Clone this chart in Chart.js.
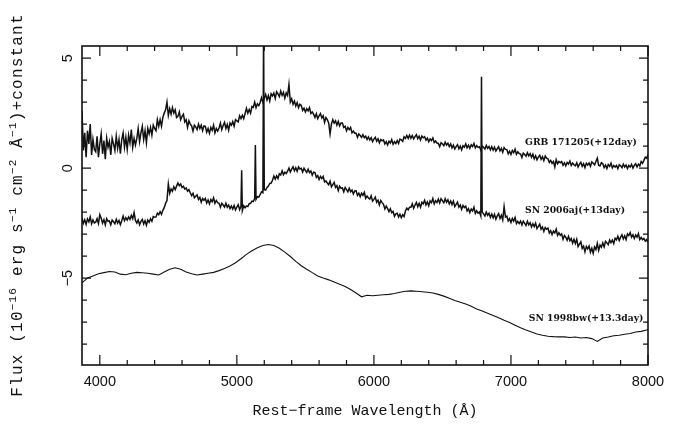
<!DOCTYPE html>
<html>
<head>
<meta charset="utf-8">
<script src="https://cdn.jsdelivr.net/npm/chart.js@4.4.1/dist/chart.umd.min.js"></script>
<style>
html,body{margin:0;padding:0;background:#fff;}
#wrap{width:683px;height:432px;position:relative;}
</style>
</head>
<body>
<div id="wrap"><canvas id="c" width="683" height="432"></canvas></div>
<script>
// ---- data ----
const seriesNames = ["GRB 171205(+12day)", "SN 2006aj(+13day)", "SN 1998bw(+13.3day)"];
const noisyStart = 3870, noisyStep = 10;   // sampling grid of the two noisy spectra (Å)
const smoothStart = 3870, smoothStep = 40; // sampling grid of SN 1998bw (Å)

// GRB 171205 flux, one row per 100 Å starting at 3870 Å
const grbFlux = [
 2.6, 0.8, 1.6, 0.5, 1.7, 1.1, 2.0, 0.6, 1.3, 0.85,
 0.75, 1.45, 0.5, 1.1, 1.55, 0.65, 1.25, 0.4, 1.35, 0.95,
 1.2, 0.6, 1.35, 1.1, 0.8, 1.45, 0.9, 1.3, 0.65, 1.3,
 1.6, 0.95, 1.4, 0.85, 1.5, 1.15, 1.75, 0.95, 1.35, 1.05,
 1.35, 1.8, 1.2, 1.6, 1.9, 1.3, 1.7, 1.15, 1.8, 1.55,
 1.85, 1.5, 1.95, 1.8, 1.7, 2.2, 1.9, 2.2, 1.9, 2.3,
 2.5, 2.65, 3.0, 2.4, 2.7, 2.45, 2.75, 2.5, 2.65, 2.3,
 2.35, 2.55, 2.2, 2.35, 2.45, 2.1, 2.2, 1.85, 2.15, 2.0,
 1.92, 1.68, 1.95, 1.87, 1.75, 2.0, 1.8, 1.95, 1.7, 1.92,
 1.9, 1.63, 1.8, 1.58, 1.85, 1.72, 1.95, 1.6, 1.8, 1.68,
 1.82, 2.04, 1.75, 1.94, 2.08, 1.8, 1.98, 1.72, 2.05, 1.95,
 2.11, 1.9, 2.2, 2.15, 2.1, 2.38, 2.25, 2.4, 2.25, 2.48,
 2.72, 2.5, 2.66, 2.5, 2.8, 2.76, 3.0, 2.75, 2.92, 2.84,
 2.98, 3.2, 3.0, 3.18, 3.35, 3.1, 3.3, 3.05, 3.38, 3.28,
 3.41, 3.17, 3.47, 3.37, 3.25, 3.5, 3.3, 3.44, 3.18, 3.42,
 3.3, 3.8, 3.0, 3.15, 2.9, 3.05, 2.82, 2.98, 2.75, 2.9,
 2.85, 2.62, 2.72, 2.55, 2.7, 2.6, 2.75, 2.48, 2.55, 2.45,
 2.3, 2.47, 2.25, 2.38, 2.48, 2.28, 2.38, 2.08, 2.3, 2.2,
 2.05, 1.55, 2.0, 2.2, 2.05, 2.15, 1.95, 2.12, 1.92, 2.05,
 2.05, 1.85, 1.9, 1.7, 1.85, 1.75, 1.85, 1.6, 1.68, 1.58,
 1.58, 1.4, 1.55, 1.48, 1.4, 1.52, 1.38, 1.45, 1.3, 1.42,
 1.28, 1.38, 1.2, 1.32, 1.4, 1.22, 1.33, 1.15, 1.3, 1.24,
 1.28, 1.1, 1.2, 1.05, 1.22, 1.14, 1.3, 1.08, 1.2, 1.12,
 1.25, 1.12, 1.32, 1.28, 1.22, 1.42, 1.35, 1.48, 1.35, 1.5,
 1.36, 1.48, 1.33, 1.43, 1.52, 1.34, 1.45, 1.28, 1.46, 1.38,
 1.43, 1.27, 1.36, 1.2, 1.33, 1.25, 1.37, 1.16, 1.23, 1.14,
 1.12, 0.97, 1.15, 1.1, 1.02, 1.18, 1.05, 1.13, 0.98, 1.1,
 0.92, 1.04, 0.87, 0.98, 1.07, 0.88, 1.0, 0.83, 1.02, 0.95,
 1.1, 0.92, 1.04, 0.9, 1.06, 0.98, 1.12, 0.92, 1.02, 0.94,
 0.97, 0.82, 1.0, 0.95, 0.87, 1.03, 0.9, 0.98, 0.83, 0.97,
 0.82, 0.95, 0.78, 0.88, 0.97, 0.78, 0.9, 0.72, 0.93, 0.85,
 0.84, 0.65, 0.77, 0.62, 0.8, 0.7, 0.86, 0.63, 0.74, 0.66,
 0.64, 0.48, 0.68, 0.62, 0.54, 0.7, 0.56, 0.66, 0.49, 0.63,
 0.42, 0.56, 0.38, 0.5, 0.58, 0.4, 0.52, 0.34, 0.55, 0.45,
 0.42, 0.26, 0.35, 0.22, 0.3, 0.05, 0.38, 0.2, 0.3, 0.24,
 0.3, 0.13, 0.24, 0.1, 0.26, 0.18, 0.32, 0.12, 0.23, 0.15,
 0.1, 0.24, 0.05, 0.18, 0.26, 0.08, 0.2, 0.02, 0.22, 0.14,
 0.23, 0.08, 0.28, 0.22, 0.15, 0.3, 0.45, 0.12, 0.1, 0.25,
 0.2, 0.02, 0.14, -0.02, 0.16, 0.08, 0.22, 0.01, 0.12, 0.05,
 0.12, -0.03, 0.15, 0.1, 0.02, 0.18, 0.05, 0.14, -0.02, 0.12,
 0.05, 0.17, 0.0, 0.12, 0.2, 0.05, 0.18, 0.1, 0.3, 0.22,
 0.35, 0.5, 0.45, 0.6, 0.55
];

// SN 2006aj flux, one row per 100 Å starting at 3870 Å
const ajFlux = [
 -2.26, -2.51, -2.35, -2.56, -2.31, -2.44, -2.22, -2.53, -2.36, -2.49,
 -2.46, -2.3, -2.52, -2.12, -2.28, -2.5, -2.34, -2.58, -2.3, -2.42,
 -2.4, -2.58, -2.36, -2.44, -2.53, -2.33, -2.5, -2.38, -2.57, -2.39,
 -2.18, -2.39, -2.25, -2.36, -2.22, -2.33, -2.15, -2.3, -2.02, -2.38,
 -2.5, -2.36, -2.57, -2.42, -2.33, -2.54, -2.39, -2.6, -2.36, -2.46,
 -2.3, -2.42, -2.2, -2.23, -2.22, -2.05, -2.12, -1.98, -2.1, -1.92,
 -1.8, -1.6, -1.48, -0.72, -1.15, -0.95, -1.05, -0.85, -0.98, -0.82,
 -0.68, -0.8, -0.72, -0.88, -0.82, -0.95, -0.9, -1.05, -0.98, -1.12,
 -1.25, -1.15, -1.35, -1.28, -1.22, -1.43, -1.33, -1.55, -1.38, -1.46,
 -1.38, -1.59, -1.45, -1.63, -1.43, -1.53, -1.35, -1.6, -1.47, -1.57,
 -1.6, -1.78, -1.6, -1.68, -1.77, -1.6, -1.78, -1.68, -1.84, -1.72,
 -1.86, -1.7, -1.9, -1.77, -1.66, -1.89, -1.74, -1.93, -1.71, -1.8,
 -1.72, -1.75, -1.62, -1.6, -1.5, -1.52, -1.38, -1.42, -1.3, -1.32,
 -1.2, -1.08, -1.12, -0.98, -1.0, -0.88, -0.82, -0.7, -0.68, -0.55,
 -0.36, -0.5, -0.35, -0.47, -0.26, -0.31, -0.12, -0.3, -0.19, -0.25,
 -0.14, 0.0, -0.18, -0.05, 0.06, -0.12, 0.02, -0.14, 0.05, -0.04,
 -0.01, -0.18, -0.01, -0.11, -0.2, -0.05, -0.2, -0.13, -0.32, -0.18,
 -0.2, -0.42, -0.34, -0.52, -0.38, -0.48, -0.38, -0.63, -0.58, -0.68,
 -0.76, -0.6, -0.85, -0.75, -0.65, -0.88, -0.8, -1.02, -0.82, -0.91,
 -0.9, -1.08, -0.88, -0.98, -1.08, -0.92, -1.08, -1.0, -1.18, -1.04,
 -1.03, -1.24, -1.14, -1.3, -1.14, -1.24, -1.1, -1.37, -1.27, -1.36,
 -1.41, -1.26, -1.5, -1.42, -1.32, -1.55, -1.46, -1.67, -1.47, -1.57,
 -1.65, -1.86, -1.73, -1.84, -1.98, -1.85, -2.03, -1.97, -2.19, -2.08,
 -2.05, -2.22, -2.1, -2.25, -2.12, -2.2, -1.95, -1.82, -1.9, -1.78,
 -1.78, -1.62, -1.83, -1.68, -1.56, -1.76, -1.6, -1.78, -1.55, -1.62,
 -1.46, -1.67, -1.54, -1.71, -1.49, -1.57, -1.38, -1.63, -1.48, -1.56,
 -1.41, -1.58, -1.39, -1.48, -1.58, -1.39, -1.55, -1.44, -1.63, -1.49,
 -1.66, -1.5, -1.75, -1.65, -1.55, -1.78, -1.68, -1.88, -1.7, -1.79,
 -1.73, -1.95, -1.85, -2.02, -1.86, -1.95, -1.78, -2.06, -1.94, -2.05,
 -2.0, -2.18, -1.99, -2.08, -2.18, -2.0, -2.15, -2.05, -2.24, -2.09,
 -2.26, -2.1, -2.32, -2.17, -2.07, -2.29, -2.14, -2.35, -1.75, -2.22,
 -2.18, -2.4, -2.3, -2.47, -2.29, -2.41, -2.25, -2.52, -2.42, -2.52,
 -2.41, -2.59, -2.41, -2.51, -2.61, -2.42, -2.58, -2.48, -2.67, -2.53,
 -2.66, -2.5, -2.75, -2.65, -2.55, -2.78, -2.68, -2.88, -2.7, -2.78,
 -2.73, -2.95, -2.85, -3.02, -2.86, -2.95, -2.78, -3.06, -2.94, -3.05,
 -2.99, -3.23, -3.06, -3.14, -3.28, -3.1, -3.3, -3.2, -3.41, -3.24,
 -3.43, -3.24, -3.57, -3.46, -3.35, -3.65, -3.55, -3.81, -3.56, -3.67,
 -3.54, -3.82, -3.64, -3.87, -3.58, -3.7, -3.42, -3.74, -3.5, -3.6,
 -3.4, -3.58, -3.33, -3.4, -3.48, -3.27, -3.39, -3.27, -3.43, -3.19,
 -3.26, -3.1, -3.29, -3.14, -3.03, -3.22, -3.08, -3.25, -2.99, -3.07,
 -2.93, -3.14, -3.03, -3.2, -3.04, -3.14, -2.98, -3.25, -3.15, -3.25,
 -3.2, -3.32, -3.25, -3.38, -3.3
];
// narrow emission lines on the SN 2006aj trace
const ajLineWave = [5035, 5135, 5195, 6785];
const ajLineFlux = [-0.1, 1.05, 6.5, 4.15];

const bwFlux = [
 -5.22, -5.0, -4.9, -4.8, -4.75, -4.7, -4.72, -4.82, -4.85, -4.78,
 -4.74, -4.76, -4.78, -4.82, -4.86, -4.72, -4.6, -4.53, -4.6, -4.72,
 -4.8, -4.86, -4.82, -4.78, -4.74, -4.66, -4.56, -4.45, -4.3, -4.12,
 -3.92, -3.76, -3.62, -3.52, -3.47, -3.52, -3.64, -3.82, -4.02, -4.24,
 -4.44, -4.6, -4.75, -4.9, -5.0, -5.08, -5.18, -5.28, -5.38, -5.52,
 -5.68, -5.85, -5.78, -5.8, -5.78, -5.76, -5.74, -5.7, -5.64, -5.6,
 -5.58, -5.6, -5.62, -5.64, -5.68, -5.74, -5.82, -5.92, -6.02, -6.1,
 -6.18, -6.28, -6.4, -6.5, -6.6, -6.7, -6.8, -6.92, -7.02, -7.14,
 -7.26, -7.36, -7.45, -7.54, -7.6, -7.64, -7.66, -7.67, -7.67, -7.7,
 -7.68, -7.72, -7.7, -7.75, -7.88, -7.72, -7.68, -7.62, -7.6, -7.55,
 -7.52, -7.45, -7.42, -7.36, -7.3
];

const xMajorTicks = [4000, 5000, 6000, 7000, 8000];
const xTickLabels = ["4000", "5000", "6000", "7000", "8000"];
const xMinorTicks = [4200, 4400, 4600, 4800, 5200, 5400, 5600, 5800, 6200, 6400, 6600, 6800, 7200, 7400, 7600, 7800];
const yMajorTicks = [-5, 0, 5];
const yTickLabels = ["\u22125", "0", "5"];
const yMinorTicks = [-8, -7, -6, -4, -3, -2, -1, 1, 2, 3, 4];
const labelWave = [7103, 7103, 7130];
const labelFlux = [1.14, -1.91, -6.82];

// ---- build points ----
function gridPoints(start, step, vals) {
  return vals.map((v, i) => ({x: start + step * i, y: v}));
}
const grbPts = gridPoints(noisyStart, noisyStep, grbFlux);
const ajPts = gridPoints(noisyStart, noisyStep, ajFlux)
  .concat(ajLineWave.map((w, i) => ({x: w, y: ajLineFlux[i]})))
  .sort((a, b) => a.x - b.x);
const bwPts = gridPoints(smoothStart, smoothStep, bwFlux);

const INK = '#111111';
const MONO = '"Liberation Mono", "DejaVu Sans Mono", monospace';

const decor = {
  id: 'decor',
  afterDatasetsDraw(chart) {
    const {ctx, chartArea: a, scales: {x, y}} = chart;
    ctx.save();
    ctx.strokeStyle = INK;
    ctx.fillStyle = INK;
    // frame
    ctx.lineWidth = 1.6;
    ctx.strokeRect(a.left, a.top, a.right - a.left, a.bottom - a.top);
    ctx.lineWidth = 1.2;
    ctx.beginPath();
    const tx = (v, len) => {
      const p = x.getPixelForValue(v);
      ctx.moveTo(p, a.bottom); ctx.lineTo(p, a.bottom - len);
      ctx.moveTo(p, a.top); ctx.lineTo(p, a.top + len);
    };
    const ty = (v, len) => {
      const p = y.getPixelForValue(v);
      ctx.moveTo(a.left, p); ctx.lineTo(a.left + len, p);
      ctx.moveTo(a.right, p); ctx.lineTo(a.right - len, p);
    };
    xMajorTicks.forEach(v => tx(v, 10));
    xMinorTicks.forEach(v => tx(v, 5));
    yMajorTicks.forEach(v => ty(v, 9));
    yMinorTicks.forEach(v => ty(v, 5));
    ctx.stroke();

    // tick labels
    ctx.font = '14.5px "Liberation Sans", Arial, sans-serif';
    ctx.textAlign = 'center';
    ctx.textBaseline = 'middle';
    xMajorTicks.forEach((v, i) => ctx.fillText(xTickLabels[i], x.getPixelForValue(v), a.bottom + 17));
    yMajorTicks.forEach((v, i) => {
      ctx.save();
      ctx.translate(a.left - 14, y.getPixelForValue(v));
      ctx.rotate(-Math.PI / 2);
      ctx.fillText(yTickLabels[i], 0, 0);
      ctx.restore();
    });

    // x title
    ctx.font = '15px ' + MONO;
    ctx.fillText('Rest\u2212frame Wavelength (\u00C5)', (a.left + a.right) / 2, a.bottom + 46);

    // y title (rich, rotated)
    const parts = [
      ['Flux (10', 0], ['\u221216', 1], [' erg s', 0], ['\u22121', 1], [' cm', 0], ['\u22122', 1],
      [' \u00C5', 0], ['\u22121', 1], [')+constant', 0]
    ];
    const big = '16px ' + MONO, small = '11px ' + MONO;
    ctx.save();
    ctx.letterSpacing = '1.2px';
    let total = 0;
    parts.forEach(p => { ctx.font = p[1] ? small : big; total += ctx.measureText(p[0]).width; });
    ctx.translate(18, 205);
    ctx.rotate(-Math.PI / 2);
    ctx.textAlign = 'left';
    ctx.textBaseline = 'middle';
    let cx = -total / 2;
    parts.forEach(p => {
      ctx.font = p[1] ? small : big;
      ctx.fillText(p[0], cx, p[1] ? -5 : 0);
      cx += ctx.measureText(p[0]).width;
    });
    ctx.restore();

    // series labels
    ctx.font = 'bold 9.2px "DejaVu Serif", serif';
    ctx.textAlign = 'left';
    ctx.textBaseline = 'middle';
    seriesNames.forEach((n, i) => ctx.fillText(n, x.getPixelForValue(labelWave[i]), y.getPixelForValue(labelFlux[i])));
    ctx.restore();
  }
};

new Chart(document.getElementById('c'), {
  type: 'line',
  data: {
    datasets: [
      {label: seriesNames[0], data: grbPts, borderColor: INK, borderWidth: 1.5},
      {label: seriesNames[1], data: ajPts, borderColor: INK, borderWidth: 1.5},
      {label: seriesNames[2], data: bwPts, borderColor: INK, borderWidth: 1.1}
    ]
  },
  options: {
    responsive: false,
    animation: false,
    events: [],
    layout: {padding: {left: 0, right: 35, top: 46, bottom: 0}},
    elements: {point: {radius: 0}, line: {tension: 0}},
    plugins: {legend: {display: false}, tooltip: {enabled: false}},
    scales: {
      x: {
        type: 'linear', min: 3870, max: 8000,
        grid: {display: false}, border: {display: false},
        ticks: {display: false},
        afterFit(s) { s.height = 67; }
      },
      y: {
        type: 'linear', min: -8.95, max: 5.55,
        grid: {display: false}, border: {display: false},
        ticks: {display: false},
        afterFit(s) { s.width = 82; }
      }
    }
  },
  plugins: [decor]
});
</script>
</body>
</html>
